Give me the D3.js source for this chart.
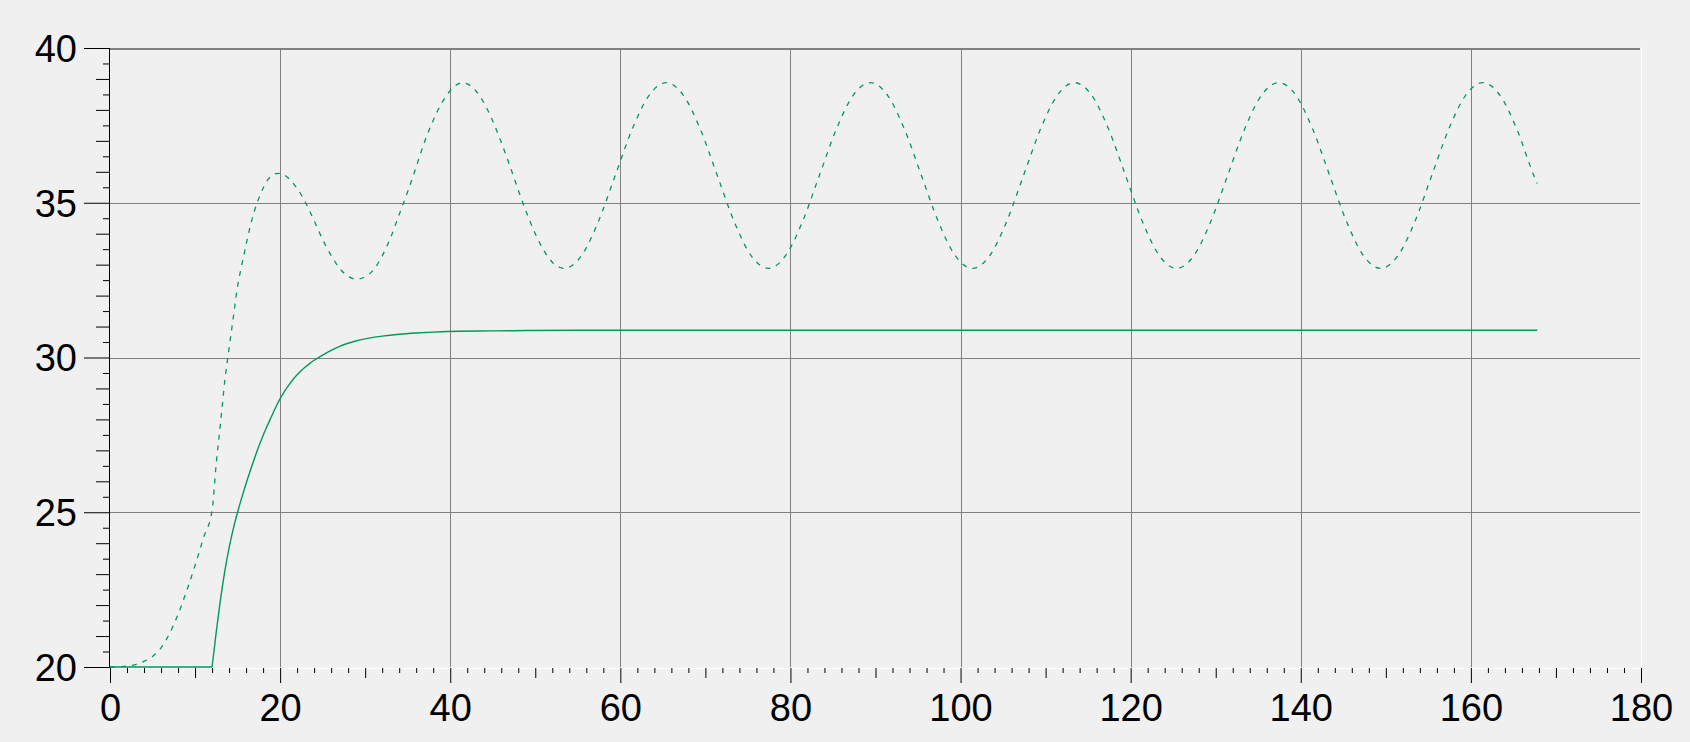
<!DOCTYPE html>
<html>
<head>
<meta charset="utf-8">
<script src="https://cdn.jsdelivr.net/npm/d3@7"></script>
<style>
html,body{margin:0;padding:0;background:#f0f0f0;overflow:hidden}
svg{display:block}
text{font-family:"Liberation Sans",Arial,sans-serif;}
</style>
</head>
<body>
<svg id="chart" width="1690" height="742"></svg>
<script>
// ---- data ----
const xTickLabels = [0, 20, 40, 60, 80, 100, 120, 140, 160, 180];
const yTickLabels = [20, 25, 30, 35, 40];

// dashed series (oscillating response)
const dashedTime = [0,1,2,3,4,5,6,7,8,9,10,11,12,12.5,13,13.5,14,14.5,15,15.5,16,16.5,17,17.5,18,18.5,19,19.5,20,20.5,21,21.5,22,22.5,23,24,25,26,27,28,29,30,31,32,33,34,35,36,37,38,39,40,41,41.4,42,43,44,45,46,47,48,49,50,51,52,53,
  53.4,55.4,57.4,59.4,61.4,63.4,65.4,67.4,69.4,71.4,73.4,75.4,
  77.4,79.4,81.4,83.4,85.4,87.4,89.4,91.4,93.4,95.4,97.4,99.4,
  101.4,103.4,105.4,107.4,109.4,111.4,113.4,115.4,117.4,119.4,121.4,123.4,
  125.4,127.4,129.4,131.4,133.4,135.4,137.4,139.4,141.4,143.4,145.4,147.4,
  149.4,151.4,153.4,155.4,157.4,159.4,161.4,163.4,165.4,167.4,167.8];
const dashedValue = [20.0,20.01,20.03,20.08,20.18,20.34,20.62,21.08,21.7,22.45,23.28,24.18,25.06,26.6,27.9,29.25,30.3,31.3,32.3,33.0,33.65,34.25,34.75,35.15,35.47,35.72,35.87,35.94,35.95,35.9,35.79,35.64,35.46,35.25,35.0,34.42,33.81,33.3,32.88,32.62,32.53,32.61,32.84,33.28,33.88,34.62,35.36,36.16,36.98,37.66,38.22,38.62,38.85,38.88,38.84,38.62,38.21,37.64,36.95,36.2,35.41,34.66,34.0,33.46,33.08,32.9,
  32.88,33.28,34.38,35.88,37.38,38.48,38.88,38.48,37.38,35.88,34.38,33.28,
  32.88,33.28,34.38,35.88,37.38,38.48,38.88,38.48,37.38,35.88,34.38,33.28,
  32.88,33.28,34.38,35.88,37.38,38.48,38.88,38.48,37.38,35.88,34.38,33.28,
  32.88,33.28,34.38,35.88,37.38,38.48,38.88,38.48,37.38,35.88,34.38,33.28,
  32.88,33.28,34.38,35.88,37.38,38.48,38.88,38.48,37.38,35.88,35.62];

// solid series (settling response)
const solidTime = [0,12,12.5,13,13.5,14,14.5,15,15.5,16,16.5,17,17.5,18,18.5,19,19.5,20,20.5,21,21.5,22,22.5,23,23.5,24,25,26,27,28,29,30,32,34,36,38,41,45,49,55,80,120,167.8];
const solidValue = [20.0,20.0,21.15,22.2,23.1,23.85,24.47,25.0,25.48,25.93,26.35,26.75,27.13,27.48,27.8,28.1,28.4,28.67,28.9,29.1,29.28,29.44,29.58,29.7,29.81,29.91,30.08,30.23,30.36,30.46,30.54,30.6,30.69,30.75,30.79,30.82,30.85,30.86,30.87,30.88,30.88,30.88,30.88];

// ---- drawing ----
(function () {
const svg = d3.select("#chart");
const W = 1690, H = 742;
const pLeft = 110, pRight = 1641, pTop = 48, pBottom = 667;
const lineColor = "#00995a";

const x = d3.scaleLinear().domain([0, 180]).range([pLeft, pRight]);
const y = d3.scaleLinear().domain([20, 40]).range([pBottom, pTop]);

svg.append("rect").attr("width", W).attr("height", H).attr("fill", "#f0f0f0");

// grid
const g = svg.append("g");
g.selectAll("line.vg").data(xTickLabels.filter(d => d > 0 && d < 180)).join("line")
  .attr("x1", d => Math.round(x(d)) + 0.5).attr("x2", d => Math.round(x(d)) + 0.5)
  .attr("y1", pTop).attr("y2", pBottom)
  .attr("stroke", "#808080").attr("stroke-width", 1);
g.selectAll("line.hg").data(yTickLabels.filter(d => d > 20 && d < 40)).join("line")
  .attr("x1", pLeft).attr("x2", pRight - 1)
  .attr("y1", d => Math.round(y(d)) + 0.5).attr("y2", d => Math.round(y(d)) + 0.5)
  .attr("stroke", "#808080").attr("stroke-width", 1);

// frame
svg.append("line").attr("x1", pLeft).attr("x2", pRight - 1).attr("y1", pTop + 1).attr("y2", pTop + 1)
  .attr("stroke", "#808080").attr("stroke-width", 2);
svg.append("line").attr("x1", pRight + 0.5).attr("x2", pRight + 0.5).attr("y1", pTop - 1).attr("y2", pBottom + 1)
  .attr("stroke", "#ffffff").attr("stroke-width", 1);
svg.append("line").attr("x1", pLeft).attr("x2", pRight + 1).attr("y1", pBottom + 1.5).attr("y2", pBottom + 1.5)
  .attr("stroke", "#ffffff").attr("stroke-width", 1);
svg.append("line").attr("x1", pLeft - 0.5).attr("x2", pLeft - 0.5).attr("y1", pTop).attr("y2", pBottom + 1)
  .attr("stroke", "#000000").attr("stroke-width", 1);

// x axis ticks
const xAll2 = d3.range(0, 181, 2);
const xMinor = xAll2.filter(d => d % 10 !== 0);
const xMid = xAll2.filter(d => d % 10 === 0 && d % 20 !== 0);

function styleAxis(sel) {
  sel.select(".domain").remove();
  sel.selectAll(".tick line").attr("stroke", "#000").attr("stroke-width", 1);
  sel.selectAll("text").attr("fill", "#000").style("font-size", "38px")
    .style("font-family", '"Liberation Sans", Arial, sans-serif');
}

svg.append("g").attr("transform", `translate(0,${pBottom + 1})`)
  .call(d3.axisBottom(x).tickValues(xMinor).tickSize(5).tickFormat(""))
  .call(styleAxis);
svg.append("g").attr("transform", `translate(0,${pBottom + 1})`)
  .call(d3.axisBottom(x).tickValues(xMid).tickSize(10).tickFormat(""))
  .call(styleAxis);
svg.append("g").attr("transform", `translate(0,${pBottom + 1})`)
  .call(d3.axisBottom(x).tickValues(xTickLabels).tickSize(15).tickPadding(11).tickFormat(d3.format("d")))
  .call(styleAxis);

// y axis ticks
const yHalf = d3.range(20, 40.01, 0.5);
const yMinor = yHalf.filter(d => d % 1 !== 0);
const yMid = yHalf.filter(d => d % 1 === 0 && d % 5 !== 0);

svg.append("g").attr("transform", `translate(${pLeft - 1},0)`)
  .call(d3.axisLeft(y).tickValues(yMinor).tickSize(6).tickFormat(""))
  .call(styleAxis);
svg.append("g").attr("transform", `translate(${pLeft - 1},0)`)
  .call(d3.axisLeft(y).tickValues(yMid).tickSize(13).tickFormat(""))
  .call(styleAxis);
const yMajorAxis = svg.append("g").attr("transform", `translate(${pLeft - 1},0)`)
  .call(d3.axisLeft(y).tickValues(yTickLabels).tickSize(25).tickPadding(7).tickFormat(d3.format("d")))
  .call(styleAxis);
yMajorAxis.selectAll("text").attr("dy", "0.35em");

// data lines
const dashedData = dashedTime.map((t, i) => [t, dashedValue[i]]);
const solidData = solidTime.map((t, i) => [t, solidValue[i]]);
const solidFlat = solidData.filter(d => d[0] <= 12);
const solidRise = solidData.filter(d => d[0] >= 12);

const lineLinear = d3.line().x(d => x(d[0])).y(d => y(d[1])).curve(d3.curveLinear);
const lineSmooth = d3.line().x(d => x(d[0])).y(d => y(d[1])).curve(d3.curveMonotoneX);

svg.append("path").datum(solidFlat)
  .attr("d", lineLinear)
  .attr("fill", "none").attr("stroke", lineColor).attr("stroke-width", 1.4);
svg.append("path").datum(solidRise)
  .attr("d", lineSmooth)
  .attr("fill", "none").attr("stroke", lineColor).attr("stroke-width", 1.4);

svg.append("path").datum(dashedData)
  .attr("d", lineSmooth)
  .attr("fill", "none").attr("stroke", lineColor).attr("stroke-width", 1.3)
  .attr("stroke-dasharray", "5,6");
})();
</script>
</body>
</html>
